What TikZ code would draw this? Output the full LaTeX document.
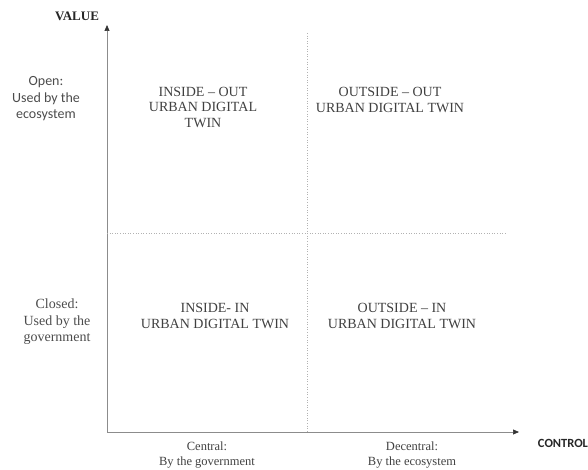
\documentclass[tikz,border=0pt]{standalone}
\usepackage{fontspec}
\setmainfont{Liberation Serif}
\newfontfamily\calibri{Carlito}
\usepackage{xcolor}
\usetikzlibrary{positioning, arrows.meta}

\begin{document}
\begin{tikzpicture}[
    x=1pt, y=-1pt,
    >={Triangle[length=6pt, width=5pt, color=black!80]},
    axis/.style={->, draw=black!45, line width=0.7pt},
    grid/.style={draw=black!30, dotted, line width=0.6pt},
    qtext/.style={align=center, text=black!75, font=\fontsize{14}{15.5}\selectfont},
    ltext/.style={align=center, text=black!70, font=\fontsize{14}{16.5}\selectfont},
    btext/.style={align=center, text=black!75, font=\fontsize{12.5}{15}\selectfont},
]
\useasboundingbox (0,0) rectangle (588,470);

% === axes ===
\coordinate (o) at (107,432);
\coordinate (ytip) at (107,25);
\coordinate (xtip) at (519,432);
\draw[axis] (o) -- (ytip);
\draw[axis] (o) -- (xtip);
\node[font=\fontsize{13}{15}\selectfont\bfseries, text=black!85] (yname) at (77,16) {VALUE};
\node[font=\calibri\fontsize{12.5}{15}\selectfont\bfseries, text=black!85] (xname) at (563,443) {CONTROL};

% === quadrant dividers ===
\coordinate (vtop) at (307,33);
\coordinate (vbot) at (307,432);
\coordinate (hleft) at (107,233);
\coordinate (hright) at (505,233);
\draw[grid] (vtop) -- (vbot);
\draw[grid] (hleft) -- (hright);

% === value labels ===
\node[ltext, font=\calibri\fontsize{14}{16.5}\selectfont] (open) at (46,99) {Open:\\Used by the\\ecosystem};
\node[ltext] (closed) at (57,322) {Closed:\\Used by the\\government};

% === control labels ===
\node[btext] (central) at (207,455) {Central:\\By the government};
\node[btext] (decentral) at (412,455) {Decentral:\\By the ecosystem};

% === quadrants ===
\node[qtext] (io) at (203,107) {INSIDE -- OUT\\URBAN DIGITAL\\TWIN};
\node[qtext] (oo) at (390,100) {OUTSIDE -- OUT\\URBAN DIGITAL TWIN};
\node[qtext] (ii) at (215,316) {INSIDE- IN\\URBAN DIGITAL TWIN};
\node[qtext] (oi) at (402,316) {OUTSIDE -- IN\\URBAN DIGITAL TWIN};

\end{tikzpicture}
\end{document}
